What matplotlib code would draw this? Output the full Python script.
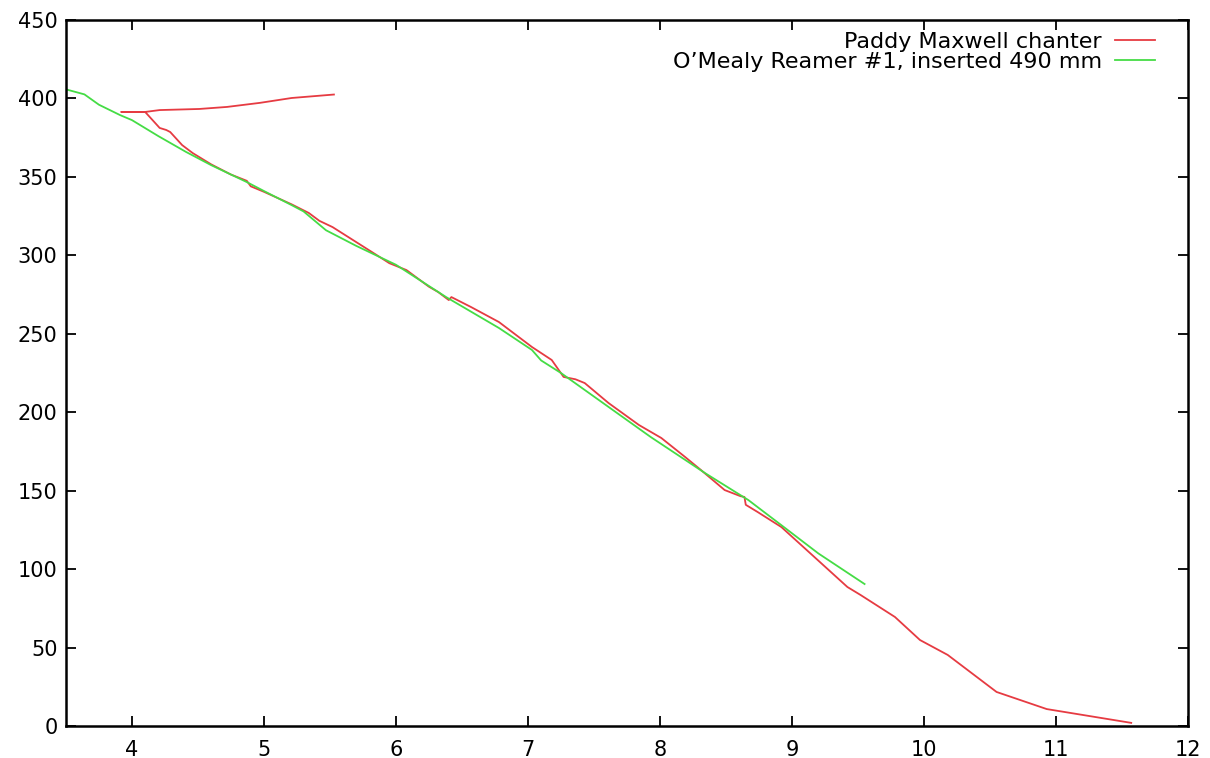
import matplotlib
matplotlib.use("Agg")
import matplotlib.pyplot as plt

plt.rcParams['font.family'] = ['DejaVu Sans']

# Paddy Maxwell chanter (bore diameter profile)
chanter_x = [5.53, 5.21, 4.97, 4.72, 4.51, 4.21, 4.10, 3.92, 4.10, 4.21, 4.26,
             4.29, 4.38, 4.46, 4.60, 4.75, 4.87, 4.90, 5.00, 5.21, 5.34, 5.42,
             5.52, 5.82, 5.95, 6.08, 6.25, 6.32, 6.40, 6.42, 6.57, 6.78, 7.03,
             7.18, 7.27, 7.36, 7.43, 7.61, 7.84, 8.01, 8.19, 8.31, 8.49, 8.61,
             8.64, 8.65, 8.74, 8.92, 9.17, 9.42, 9.52, 9.78, 9.97, 10.18,
             10.55, 10.93, 11.57]
chanter_y = [402.5, 400.3, 397.2, 394.6, 393.3, 392.6, 391.4, 391.4, 391.4,
             381.2, 379.9, 378.6, 370.3, 365.2, 358.0, 351.5, 347.5, 344.0,
             340.5, 332.5, 327.0, 322.0, 318.0, 302.0, 295.0, 290.6, 280.0,
             276.6, 271.5, 273.4, 267.0, 257.5, 241.6, 233.3, 222.5, 221.0,
             218.6, 205.9, 191.9, 183.6, 171.5, 163.2, 150.4, 146.5, 146.0,
             141.0, 136.4, 126.8, 107.7, 88.6, 83.5, 69.5, 54.8, 45.3, 21.7,
             10.8, 2.0]

# O'Mealy Reamer #1, inserted 490 mm
reamer_x = [3.50, 3.64, 3.75, 3.91, 4.00, 4.20, 4.41, 4.60, 4.87, 5.00, 5.21,
            5.30, 5.47, 5.70, 6.00, 6.38, 6.78, 7.03, 7.10, 7.25, 7.50, 7.93,
            8.34, 8.67, 8.92, 9.20, 9.55]
reamer_y = [405.8, 402.6, 396.0, 389.4, 386.2, 376.0, 365.9, 357.5, 346.7,
            341.0, 332.0, 328.0, 316.0, 306.0, 294.0, 273.4, 253.7, 239.7,
            233.0, 225.0, 210.0, 184.2, 161.3, 144.0, 128.0, 110.0, 90.5]

fig = plt.figure(figsize=(12.1, 7.58), dpi=100)
ax = fig.add_axes([0.0545, 0.0422, 0.9273, 0.9314])

ax.plot(chanter_x, chanter_y, color='#e63b42', lw=1.3,
        label='Paddy Maxwell chanter')
ax.plot(reamer_x, reamer_y, color='#45dc45', lw=1.3,
        label="O\u2019Mealy Reamer #1, inserted 490 mm")

ax.set_xlim(3.5, 12)
ax.set_ylim(0, 450)
ax.set_xticks(range(4, 13))
ax.set_yticks(range(0, 451, 50))

ax.tick_params(direction='in', length=7, width=1.3, labelsize=15,
               top=True, right=True)
ax.tick_params(axis='x', pad=10)
ax.tick_params(axis='y', pad=6)
for s in ax.spines.values():
    s.set_linewidth(1.8)

ax.legend(loc='upper right', bbox_to_anchor=(0.9706, 0.9835), frameon=False,
          markerfirst=False, fontsize=16, handlelength=1.8,
          labelspacing=0, borderaxespad=0, borderpad=0,
          handletextpad=0.6)

fig.savefig('out.png', dpi=100)
